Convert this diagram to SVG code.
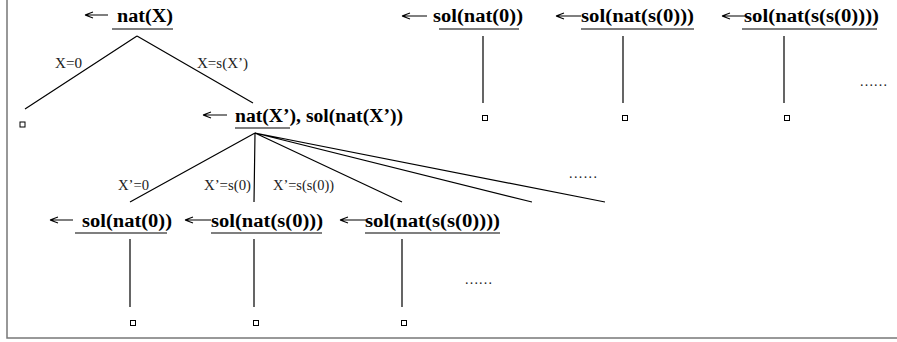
<svg xmlns="http://www.w3.org/2000/svg" width="897" height="342" viewBox="0 0 897 342">
<style>
.t{font-family:"Liberation Serif","Times New Roman",serif;font-weight:bold;font-size:18px;fill:#000}
.l{font-family:"Liberation Serif","Times New Roman",serif;font-size:14px;fill:#222}
.e{stroke:#000;stroke-width:1.2;fill:none}
.u{stroke:#000;stroke-width:1.2}
.a{stroke:#000;stroke-width:1.1;fill:none}
.b{fill:#fff;stroke:#000;stroke-width:1}
</style>
<rect x="7" y="-5" width="900" height="343" fill="#fff" stroke="#777" stroke-width="1.5"/>
<g id="connectors">
<path class="e" d="M137 36 L25 109 M137 36 L253 103"/>
<path class="e" d="M255 133 L130 202 M255 133 L254 202 M255 133 L402 202 M255 133 L532 202 M255 133 L605 202"/>
<path class="e" d="M483 36 V103 M623 36 V103 M784 36 V103"/>
<path class="e" d="M130 239 V307 M254 239 V307 M402 239 V307"/>
<text class="l" x="55" y="68" textLength="27" lengthAdjust="spacingAndGlyphs">X=0</text>
<text class="l" x="197" y="68" textLength="51" lengthAdjust="spacingAndGlyphs">X=s(X’)</text>
<text class="l" x="118" y="190" textLength="31" lengthAdjust="spacingAndGlyphs">X’=0</text>
<text class="l" x="204" y="190" textLength="47" lengthAdjust="spacingAndGlyphs">X’=s(0)</text>
<text class="l" x="273" y="190" textLength="61" lengthAdjust="spacingAndGlyphs">X’=s(s(0))</text>
</g>
<g id="n_root">
<path class="a" d="M85 15 H108 M85 15 L93 12 M85 15 L93 18"/>
<text class="t" x="117" y="22" textLength="56" lengthAdjust="spacingAndGlyphs">nat(X)</text>
<line class="u" x1="112" y1="29" x2="173" y2="29"/>
</g>
<g id="n_leaf0"><rect class="b" x="20" y="122" width="5" height="5"/></g>
<g id="n_mid">
<path class="a" d="M203 115 H227 M203 115 L211 112 M203 115 L211 118"/>
<text class="t" x="235" y="122" textLength="168" lengthAdjust="spacingAndGlyphs">nat(X’), sol(nat(X’))</text>
<line class="u" x1="235" y1="128" x2="290" y2="128"/>
</g>
<g id="n_top1">
<path class="a" d="M402 16 H427 M402 16 L410 13 M402 16 L410 19"/>
<text class="t" x="433" y="22" textLength="90" lengthAdjust="spacingAndGlyphs">sol(nat(0))</text>
<line class="u" x1="439" y1="29" x2="519" y2="29"/>
<rect class="b" x="482.5" y="115.5" width="5" height="5"/>
</g>
<g id="n_top2">
<path class="a" d="M556 16 H581 M556 16 L564 13 M556 16 L564 19"/>
<text class="t" x="581" y="22" textLength="113" lengthAdjust="spacingAndGlyphs">sol(nat(s(0)))</text>
<line class="u" x1="581" y1="29" x2="694" y2="29"/>
<rect class="b" x="622.5" y="115.5" width="5" height="5"/>
</g>
<g id="n_top3">
<path class="a" d="M722 16 H745 M722 16 L730 13 M722 16 L730 19"/>
<text class="t" x="744" y="22" textLength="135" lengthAdjust="spacingAndGlyphs">sol(nat(s(s(0))))</text>
<line class="u" x1="742" y1="29" x2="877" y2="29"/>
<rect class="b" x="784.5" y="115.5" width="5" height="5"/>
</g>
<g id="n_dots1"><text class="l" x="860" y="86" textLength="27" lengthAdjust="spacing">......</text></g>
<g id="n_dots2"><text class="l" x="569" y="178" textLength="28" lengthAdjust="spacing">......</text></g>
<g id="n_bot1">
<path class="a" d="M50 220 H73 M50 220 L58 217 M50 220 L58 223"/>
<text class="t" x="82" y="227" textLength="90" lengthAdjust="spacingAndGlyphs">sol(nat(0))</text>
<line class="u" x1="75" y1="233" x2="167" y2="233"/>
<rect class="b" x="130.5" y="320.5" width="5" height="5"/>
</g>
<g id="n_bot2">
<path class="a" d="M185 220 H211 M185 220 L193 217 M185 220 L193 223"/>
<text class="t" x="211" y="227" textLength="112" lengthAdjust="spacingAndGlyphs">sol(nat(s(0)))</text>
<line class="u" x1="211" y1="233" x2="322" y2="233"/>
<rect class="b" x="253.5" y="320.5" width="5" height="5"/>
</g>
<g id="n_bot3">
<path class="a" d="M340 220 H366 M340 220 L348 217 M340 220 L348 223"/>
<text class="t" x="365" y="227" textLength="135" lengthAdjust="spacingAndGlyphs">sol(nat(s(s(0))))</text>
<line class="u" x1="365" y1="233" x2="500" y2="233"/>
<rect class="b" x="401.5" y="320.5" width="5" height="5"/>
</g>
<g id="n_dots3"><text class="l" x="465" y="284" textLength="27" lengthAdjust="spacing">......</text></g>
</svg>
